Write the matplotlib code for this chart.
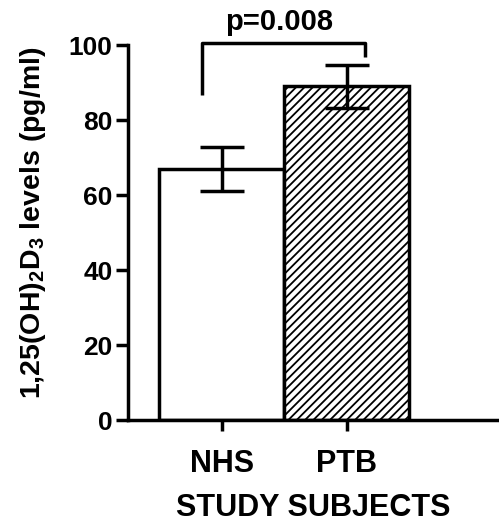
import numpy as np
import matplotlib
matplotlib.use('Agg')
import matplotlib.pyplot as plt

plt.rcParams['font.family'] = ['Liberation Sans', 'DejaVu Sans']
plt.rcParams['font.weight'] = 'bold'
plt.rcParams['mathtext.default'] = 'regular'
plt.rcParams['hatch.linewidth'] = 1.3

groups = ['NHS', 'PTB']
means = [67.0, 89.0]
sem = [5.8, 5.8]
hatches = ['', '////']
p_text = 'p=0.008'

fig = plt.figure(figsize=(4.99, 5.27), dpi=100)
ax = fig.add_axes([0.2565, 0.203, 0.7435, 0.7116])

x = np.arange(len(groups))
bars = ax.bar(x, means, width=1.0, color='white', edgecolor='black',
              linewidth=2.5, zorder=2)
for b, h in zip(bars, hatches):
    b.set_hatch(h)
ax.errorbar(x, means, yerr=sem, fmt='none', ecolor='black',
            elinewidth=2.5, capsize=16, capthick=2.5, zorder=3)

# significance bracket
ax.plot([-0.16, -0.16, 1.15, 1.15], [86.8, 100.6, 100.6, 96.9],
        color='black', lw=2.5, clip_on=False, solid_capstyle='butt')
ax.text(0.46, 102.5, p_text, ha='center', va='bottom', fontsize=21,
        fontweight='bold')

ax.set_xlim(-0.75, 2.22)
ax.set_ylim(0, 100)
ax.set_yticks([0, 20, 40, 60, 80, 100])
ax.set_xticks(x)
ax.set_xticklabels(groups)
ax.spines['top'].set_visible(False)
ax.spines['right'].set_visible(False)
for s in ['left', 'bottom']:
    ax.spines[s].set_linewidth(2.5)
ax.tick_params(axis='y', length=9, width=2.5, labelsize=19, pad=2)
ax.tick_params(axis='x', length=8, width=2.5, labelsize=22, pad=13)

ax.set_ylabel('1,25(OH)$_2$D$_3$ levels (pg/ml)', fontsize=20.5,
              fontweight='bold')
ax.yaxis.set_label_coords(-0.216, 0.527)
ax.set_xlabel('STUDY SUBJECTS', fontsize=22, fontweight='bold', labelpad=10)

fig.savefig('out.png', dpi=100)
